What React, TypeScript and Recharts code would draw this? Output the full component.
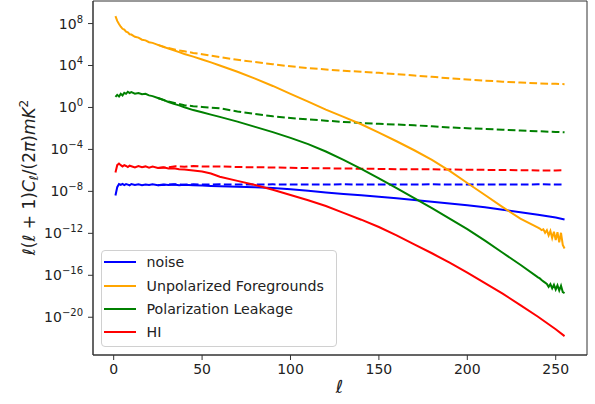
import { Line, LineChart, ReferenceArea, XAxis, YAxis } from "recharts";

const FONT = "'DejaVu Sans', sans-serif";

// multipoles sampled along each curve
const ellSolid = [
  1, 2, 3, 4, 5, 6, 7, 8, 9, 10, 12, 14, 16, 18, 20, 22, 25, 28, 31, 34, 37, 40, 45, 50, 55, 60,
  70, 80, 90, 100, 110, 120, 130, 140, 150, 160, 170, 180, 190, 200, 210, 220, 230, 240, 250, 255,
];
const ellSolidTail = [
  1, 2, 3, 4, 5, 6, 7, 8, 9, 10, 12, 14, 16, 18, 20, 22, 25, 28, 31, 34, 37, 40, 45, 50, 55, 60,
  70, 80, 90, 100, 110, 120, 130, 140, 150, 160, 170, 180, 190, 200, 210, 220, 230, 240,
  241, 242, 243, 244, 245, 246, 247, 248, 249, 250, 251, 252, 253, 254, 255,
];
const ellDashed = [
  25, 30, 35, 40, 45, 50, 60, 70, 80, 90, 100, 110, 120, 130, 140, 150, 160, 170, 180, 190, 200,
  210, 220, 230, 240, 250, 255,
];

// log10 of l(l+1)C_l/2pi [mK^2]
const noiseSolid = [
  -8.4, -7.6, -7.3, -7.38, -7.28, -7.4, -7.3, -7.36, -7.42, -7.3, -7.4, -7.33, -7.42, -7.34, -7.4,
  -7.32, -7.41, -7.35, -7.4, -7.34, -7.42, -7.38, -7.42, -7.45, -7.48, -7.5, -7.55, -7.6, -7.68,
  -7.8, -7.95, -8.1, -8.24, -8.38, -8.52, -8.66, -8.82, -8.98, -9.15, -9.33, -9.52, -9.75, -10.0,
  -10.22, -10.5, -10.68,
];
const noiseDashed = [
  -7.41, -7.36, -7.33, -7.37, -7.32, -7.35, -7.33, -7.35, -7.34, -7.33, -7.35, -7.34, -7.34, -7.33,
  -7.34, -7.34, -7.35, -7.34, -7.33, -7.34, -7.34, -7.35, -7.34, -7.34, -7.33, -7.34, -7.35,
];
const fgSolid = [
  8.7, 8.25, 7.95, 7.7, 7.5, 7.42, 7.22, 7.16, 6.98, 6.95, 6.74, 6.66, 6.46, 6.4, 6.22, 6.16, 5.97,
  5.78, 5.62, 5.45, 5.28, 5.1, 4.85, 4.58, 4.3, 4.0, 3.4, 2.75, 2.05, 1.3, 0.55, -0.2, -0.9, -1.6,
  -2.4, -3.22, -4.08, -5.0, -6.05, -7.2, -8.35, -9.5, -10.6, -11.45, -11.55, -11.7, -11.62, -11.95,
  -11.7, -12.2, -11.78, -12.45, -11.85, -12.65, -11.9, -12.85, -11.95, -13.1, -13.45,
];
const fgDashed = [
  5.97, 5.7, 5.5, 5.35, 5.2, 5.07, 4.8, 4.55, 4.33, 4.12, 3.92, 3.75, 3.62, 3.5, 3.4, 3.3, 3.18,
  3.05, 2.92, 2.78, 2.66, 2.56, 2.46, 2.38, 2.3, 2.25, 2.22,
];
const leakSolid = [
  1.0, 1.2, 1.05, 1.3, 1.15, 1.4, 1.3, 1.5, 1.38, 1.46, 1.32, 1.38, 1.26, 1.3, 1.15, 1.08, 0.9,
  0.72, 0.52, 0.34, 0.2, 0.02, -0.25, -0.45, -0.68, -0.9, -1.35, -1.85, -2.35, -2.9, -3.5, -4.2,
  -5.0, -5.85, -6.75, -7.7, -8.65, -9.6, -10.6, -11.6, -12.7, -13.85, -15.0, -16.2, -16.3, -16.45,
  -16.58, -16.7, -16.82, -17.1, -16.85, -17.25, -16.9, -17.35, -16.95, -17.45, -17.0, -17.6, -17.7,
];
const leakDashed = [
  0.9, 0.62, 0.4, 0.22, 0.12, 0.05, -0.08, -0.38, -0.62, -0.84, -1.0, -1.14, -1.26, -1.38, -1.48,
  -1.56, -1.63, -1.7, -1.8, -1.9, -1.98, -2.05, -2.12, -2.2, -2.27, -2.33, -2.37,
];
const hiSolid = [
  -6.2, -5.5, -5.35, -5.5, -5.62, -5.5, -5.58, -5.68, -5.55, -5.6, -5.72, -5.58, -5.7, -5.62, -5.74,
  -5.64, -5.76, -5.7, -5.82, -5.8, -5.88, -5.92, -6.0, -6.1, -6.3, -6.6, -7.0, -7.4, -7.85, -8.35,
  -8.85, -9.4, -10.05, -10.7, -11.4, -12.2, -13.05, -13.9, -14.8, -15.75, -16.75, -17.75, -18.85,
  -19.95, -21.15, -21.8,
];
const hiDashed = [
  -5.76, -5.72, -5.6, -5.66, -5.58, -5.64, -5.62, -5.68, -5.7, -5.72, -5.75, -5.78, -5.8, -5.82,
  -5.84, -5.86, -5.88, -5.9, -5.9, -5.92, -5.93, -5.95, -5.96, -5.98, -6.0, -6.0, -5.98,
];

const seriesNames = ["noise", "Unpolarized Foregrounds", "Polarization Leakage", "HI"];
const seriesColors = ["#0000ff", "#ffa500", "#008000", "#ff0000"];

const xTicks = [0, 50, 100, 150, 200, 250];
const yTicks = [1e-20, 1e-16, 1e-12, 1e-8, 1e-4, 1, 1e4, 1e8];
const xDomain = [-11.7, 267.7];
const yDomain = [10 ** -23.6, 10 ** 10.15];

const toPoints = (ells: number[], exps: number[]) =>
  ells.map((ell, i) => ({ ell, value: 10 ** exps[i] }));

const curves = [
  { solid: toPoints(ellSolid, noiseSolid), dashed: toPoints(ellDashed, noiseDashed) },
  { solid: toPoints(ellSolidTail, fgSolid), dashed: toPoints(ellDashed, fgDashed) },
  { solid: toPoints(ellSolidTail, leakSolid), dashed: toPoints(ellDashed, leakDashed) },
  { solid: toPoints(ellSolid, hiSolid), dashed: toPoints(ellDashed, hiDashed) },
];

const XTick = ({ x, y, payload }: any) => (
  <text x={x} y={y} dy="0.71em" textAnchor="middle" fontSize={14} fill="#222" fontFamily={FONT}>
    {payload.value}
  </text>
);

const YTick = ({ x, y, payload }: any) => {
  const exp = Math.round(Math.log10(payload.value));
  return (
    <text x={x} y={y} dy="0.355em" textAnchor="end" fontSize={14} fill="#222" fontFamily={FONT}>
      <tspan>10</tspan>
      <tspan dy={-6} fontSize={10}>
        {exp < 0 ? `\u2212${-exp}` : exp}
      </tspan>
    </text>
  );
};

function AxisLabels() {
  return (
    <svg
      width={595}
      height={404}
      style={{ position: "absolute", left: 0, top: 0, pointerEvents: "none" }}
      fontFamily={FONT}
      fill="#222"
    >
      <text transform="rotate(-90)" x={-177.5} y={35} textAnchor="middle" fontSize={17}>
        <tspan fontStyle="italic">ℓ</tspan>
        <tspan>(</tspan>
        <tspan fontStyle="italic">ℓ</tspan>
        <tspan>{" + 1)"}</tspan>
        <tspan fontStyle="italic">C</tspan>
        <tspan fontStyle="italic" fontSize={12} dy={3}>
          ℓ
        </tspan>
        <tspan dy={-3}>/(2</tspan>
        <tspan fontStyle="italic">π</tspan>
        <tspan>)</tspan>
        <tspan fontStyle="italic">mK</tspan>
        <tspan fontSize={12} dy={-7}>
          2
        </tspan>
      </text>
      <text x={339.5} y={393} textAnchor="middle" fontSize={18} fontStyle="italic">
        ℓ
      </text>
    </svg>
  );
}

function LegendBox() {
  return (
    <div
      style={{
        position: "absolute",
        left: 100.5,
        top: 250,
        width: 236,
        height: 97,
        boxSizing: "border-box",
        border: "1px solid #d0d0d0",
        borderRadius: 4,
        background: "rgba(255,255,255,0.8)",
        fontFamily: FONT,
        fontSize: 14.2,
        color: "#222",
      }}
    >
      {seriesNames.map((name, i) => (
        <div
          key={name}
          style={{
            position: "absolute",
            left: 0,
            top: 11.3 + i * 23.2 - 10,
            height: 20,
            display: "flex",
            alignItems: "center",
            whiteSpace: "nowrap",
          }}
        >
          <span
            style={{
              display: "inline-block",
              marginLeft: 2.5,
              width: 32,
              height: 2,
              background: seriesColors[i],
            }}
          />
          <span style={{ marginLeft: 10.5 }}>{name}</span>
        </div>
      ))}
    </div>
  );
}

export default function App() {
  return (
    <div style={{ position: "absolute", left: 0, top: 0, width: 595, height: 404, background: "#fff" }}>
      <LineChart width={595} height={404} margin={{ top: 1, right: 8, bottom: 0, left: 0 }}>
        <XAxis
          dataKey="ell"
          type="number"
          domain={xDomain}
          ticks={xTicks}
          allowDataOverflow
          height={49}
          stroke="#333"
          tickSize={5}
          tickMargin={4}
          tick={<XTick />}
        />
        <YAxis
          type="number"
          scale="log"
          domain={yDomain}
          ticks={yTicks}
          allowDataOverflow
          width={93}
          stroke="#333"
          tickSize={5}
          tickMargin={5}
          tick={<YTick />}
        />
        {/* box around the axes */}
        <ReferenceArea
          x1={xDomain[0]}
          x2={xDomain[1]}
          y1={yDomain[0]}
          y2={yDomain[1]}
          fill="none"
          fillOpacity={0}
          stroke="#333"
          strokeWidth={1}
          ifOverflow="visible"
        />
        {curves.map((c, i) => (
          <Line
            key={`${seriesNames[i]}-dashed`}
            data={c.dashed}
            dataKey="value"
            type="linear"
            stroke={seriesColors[i]}
            strokeWidth={2}
            strokeDasharray="7.7 3.3"
            dot={false}
            activeDot={false}
            isAnimationActive={false}
          />
        ))}
        {curves.map((c, i) => (
          <Line
            key={`${seriesNames[i]}-solid`}
            data={c.solid}
            dataKey="value"
            name={seriesNames[i]}
            type="linear"
            stroke={seriesColors[i]}
            strokeWidth={2}
            dot={false}
            activeDot={false}
            isAnimationActive={false}
          />
        ))}
      </LineChart>
      <AxisLabels />
      <LegendBox />
    </div>
  );
}
